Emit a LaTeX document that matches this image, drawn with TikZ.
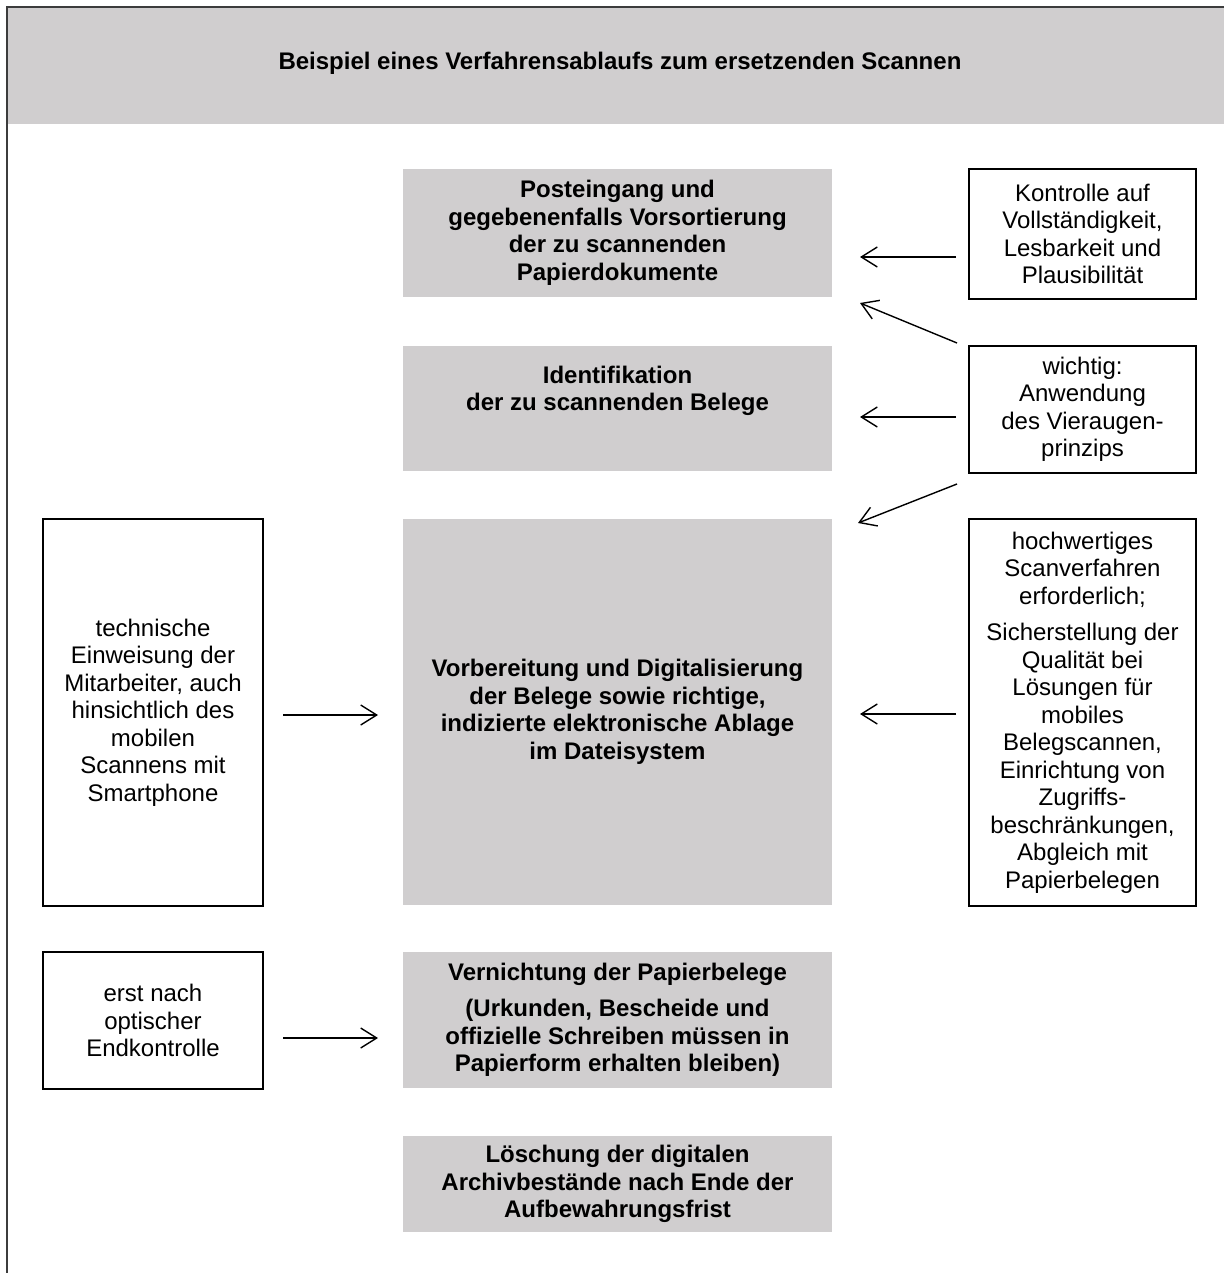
\documentclass[tikz,border=0pt]{standalone}
\usepackage{fontspec}
\setmainfont{Liberation Sans}
\usetikzlibrary{arrows.meta}
\definecolor{boxgray}{RGB}{208,206,207}
\definecolor{framegray}{RGB}{60,60,60}
\tikzset{
  gbox/.style={fill=boxgray, outer sep=0pt, inner sep=0pt, align=center,
    font=\bfseries\fontsize{24}{27.5}\selectfont},
  wbox/.style={draw, line width=1.6pt, outer sep=0pt, inner sep=0pt, align=center,
    font=\fontsize{24}{27.5}\selectfont},
  btxt/.style={align=center, font=\bfseries\fontsize{24}{27.5}\selectfont},
  arr/.style={line width=1.4pt, -{Straight Barb[length=16pt, width=20pt, line width=1.4pt]}}
}

\begin{document}
\begin{tikzpicture}[x=1pt, y=1pt]
            \useasboundingbox (0,0) rectangle (1224,-1273);

            % header and frame
            \fill[boxgray] (7,-7) rectangle (1224,-124);
            \draw[framegray, line width=2pt] (1224,-7) -- (7,-7) -- (7,-1273);
            \node[btxt] (title) at (620,-63) {Beispiel eines Verfahrensablaufs zum ersetzenden Scannen};

            % middle column
            \node[gbox, minimum width=429pt, minimum height=128pt] (post) at (617.5,-233)
                {Posteingang und\\gegebenenfalls Vorsortierung\\der zu scannenden\\Papierdokumente};
            \node[gbox, minimum width=429pt, minimum height=125pt] (ident) at (617.5,-408.5) {};
            \node[btxt] (identtxt) at (617.5,-391) {Identifikation\\der zu scannenden Belege};
            \node[gbox, minimum width=429pt, minimum height=386pt] (prep) at (617.5,-712)
                {Vorbereitung und Digitalisierung\\der Belege sowie richtige,\\indizierte elektronische Ablage\\im Dateisystem};
            \node[gbox, minimum width=429pt, minimum height=136pt] (vern) at (617.5,-1020)
                {Vernichtung der Papierbelege\\[9pt](Urkunden, Bescheide und\\offizielle Schreiben m\"ussen in\\Papierform erhalten bleiben)};
            \node[gbox, minimum width=429pt, minimum height=96pt] (loesch) at (617.5,-1184)
                {L\"oschung der digitalen\\Archivbest\"ande nach Ende der\\Aufbewahrungsfrist};

            % right column
            \node[wbox, minimum width=227pt, minimum height=130pt] (kontrolle) at (1082.5,-234)
                {Kontrolle auf\\Vollst\"andigkeit,\\Lesbarkeit und\\Plausibilit\"at};
            \node[wbox, minimum width=227pt, minimum height=127pt] (vier) at (1082.5,-409.5)
                {wichtig:\\Anwendung\\des Vieraugen-\\prinzips};
            \node[wbox, minimum width=227pt, minimum height=387pt] (scan) at (1082.5,-712.5)
                {hochwertiges\\Scanverfahren\\erforderlich;\\[9pt]Sicherstellung der\\Qualit\"at bei\\L\"osungen f\"ur\\mobiles\\Belegscannen,\\Einrichtung von\\Zugriffs-\\beschr\"ankungen,\\Abgleich mit\\Papierbelegen};

            % left column
            \node[wbox, minimum width=220pt, minimum height=387pt] (einw) at (153,-712.5)
                {technische\\Einweisung der\\Mitarbeiter, auch\\hinsichtlich des\\mobilen\\Scannens mit\\Smartphone};
            \node[wbox, minimum width=220pt, minimum height=137pt] (endk) at (153,-1020.5)
                {erst nach\\optischer\\Endkontrolle};

            % arrows
            \draw[arr] ([xshift=-13pt,yshift=-23pt]kontrolle.west) -- ([xshift=28pt,yshift=-24pt]post.east);
            \draw[arr] ([xshift=-12pt,yshift=3pt]vier.north west) -- ([xshift=28pt,yshift=-6pt]post.south east);
            \draw[arr] ([xshift=-13pt,yshift=-7.5pt]vier.west) -- ([xshift=28pt,yshift=-8.5pt]ident.east);
            \draw[arr] ([xshift=-12pt,yshift=-11pt]vier.south west) -- ([xshift=26pt,yshift=-4pt]prep.north east);
            \draw[arr] ([xshift=-13pt,yshift=-1.5pt]scan.west) -- ([xshift=28pt,yshift=-2pt]prep.east);
            \draw[arr] ([xshift=20pt,yshift=-2.5pt]einw.east) -- ([xshift=-25pt,yshift=-3pt]prep.west);
            \draw[arr] ([xshift=20pt,yshift=-17.5pt]endk.east) -- ([xshift=-25pt,yshift=-18pt]vern.west);
\end{tikzpicture}
\end{document}
